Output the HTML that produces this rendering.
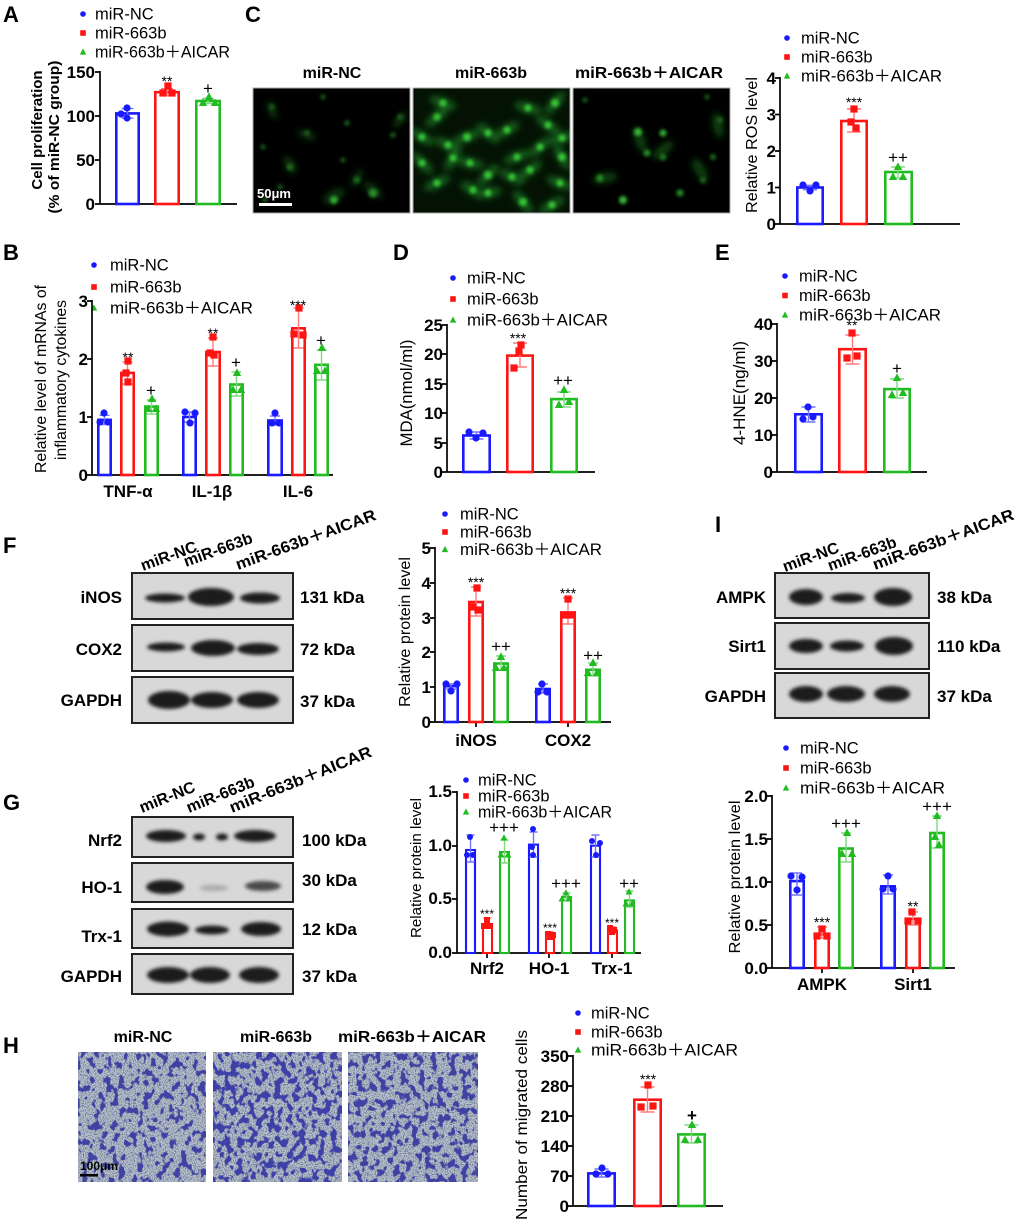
<!DOCTYPE html>
<html><head><meta charset="utf-8">
<style>
html,body{margin:0;padding:0;background:#fff}
svg{display:block}
svg text{font-family:"Liberation Sans","Noto Sans CJK SC",sans-serif;fill:#000}
.pl{font-size:22px;font-weight:bold}
.lg{font-size:16.5px}
.tk{font-size:17px;font-weight:bold;text-anchor:end}
.ct{font-size:17px;font-weight:bold;text-anchor:middle}
.ti{font-size:16px;font-weight:bold;text-anchor:middle}
.bl{font-size:17px;font-weight:bold}
.rl{font-size:16px;font-weight:bold}
.r{text-anchor:end}
.yl{text-anchor:middle}
.ax{stroke:#000;stroke-width:1.7;fill:none}
.B{fill:none;stroke:#1a1aff;stroke-width:2.6}
.R{fill:none;stroke:#ff1414;stroke-width:2.6}
.G{fill:none;stroke:#22bb22;stroke-width:2.6}
.B2{fill:none;stroke:#1a1aff;stroke-width:2.1}
.R2{fill:none;stroke:#ff1414;stroke-width:2.1}
.G2{fill:none;stroke:#22bb22;stroke-width:2.1}
.eB{stroke:#7474ff;stroke-width:1.4;fill:none}
.eR{stroke:#ff7a7a;stroke-width:1.4;fill:none}
.eG{stroke:#80d880;stroke-width:1.4;fill:none}
.st{font-size:14px;text-anchor:middle}
.st2{font-size:12px;text-anchor:middle}
.pp{font-size:17px;text-anchor:middle}
.blot{fill:#d8d8d8;stroke:#222;stroke-width:2}
</style></head><body>
<svg width="1020" height="1224" viewBox="0 0 1020 1224" xmlns="http://www.w3.org/2000/svg">
<defs>
<circle id="cb" r="3.6" fill="#1a1aff"/>
<rect id="sr" x="-3.6" y="-3.6" width="7.2" height="7.2" fill="#ff1414"/>
<path id="tg" d="M0,-4.6 L4.2,3 L-4.2,3Z" fill="#22bb22"/>
<circle id="cb2" r="3" fill="#1a1aff"/>
<rect id="sr2" x="-3" y="-3" width="6" height="6" fill="#ff1414"/>
<path id="tg2" d="M0,-3.8 L3.5,2.5 L-3.5,2.5Z" fill="#22bb22"/>
<circle id="cbs" r="2.8" fill="#1a1aff"/>
<rect id="srs" x="-2.8" y="-2.8" width="5.6" height="5.6" fill="#ff1414"/>
<path id="tgs" d="M0,-3.6 L3.2,2.6 L-3.2,2.6Z" fill="#22bb22"/>
<filter id="bband" x="-20%" y="-20%" width="140%" height="140%"><feGaussianBlur stdDeviation="1.8"/></filter>
<filter id="bn" x="-20%" y="-20%" width="140%" height="140%"><feGaussianBlur stdDeviation="1.6"/></filter>
<filter id="bb4" x="-20%" y="-20%" width="140%" height="140%"><feGaussianBlur stdDeviation="3.5"/></filter>
<clipPath id="c1"><rect x="253" y="88" width="157" height="125"/></clipPath>
<clipPath id="c2"><rect x="413" y="88" width="157" height="125"/></clipPath>
<clipPath id="c3"><rect x="573" y="88" width="157" height="125"/></clipPath>
<filter id="h1" x="0" y="0" width="1" height="1" color-interpolation-filters="sRGB">
 <feTurbulence type="fractalNoise" baseFrequency="0.16 0.13" numOctaves="2" seed="3" result="n"/>
 <feColorMatrix in="n" type="matrix" values="0 0 0 0 0.25  0 0 0 0 0.26  0 0 0 0 0.64  12 0 0 0 -6.45" result="c"/>
 <feTurbulence type="fractalNoise" baseFrequency="0.9" numOctaves="1" seed="9" result="s"/>
 <feColorMatrix in="s" type="matrix" values="0 0 0 0 0.4  0 0 0 0 0.44  0 0 0 0 0.52  5 0 0 0 -2.4" result="sp"/>
 <feMerge><feMergeNode in="SourceGraphic"/><feMergeNode in="sp"/><feMergeNode in="c"/></feMerge>
</filter>
<filter id="h2" x="0" y="0" width="1" height="1" color-interpolation-filters="sRGB">
 <feTurbulence type="fractalNoise" baseFrequency="0.16 0.13" numOctaves="2" seed="7" result="n"/>
 <feColorMatrix in="n" type="matrix" values="0 0 0 0 0.24  0 0 0 0 0.25  0 0 0 0 0.65  12 0 0 0 -6.05" result="c"/>
 <feTurbulence type="fractalNoise" baseFrequency="0.9" numOctaves="1" seed="12" result="s"/>
 <feColorMatrix in="s" type="matrix" values="0 0 0 0 0.4  0 0 0 0 0.44  0 0 0 0 0.52  5 0 0 0 -2.4" result="sp"/>
 <feMerge><feMergeNode in="SourceGraphic"/><feMergeNode in="sp"/><feMergeNode in="c"/></feMerge>
</filter>
<filter id="h3" x="0" y="0" width="1" height="1" color-interpolation-filters="sRGB">
 <feTurbulence type="fractalNoise" baseFrequency="0.16 0.13" numOctaves="2" seed="11" result="n"/>
 <feColorMatrix in="n" type="matrix" values="0 0 0 0 0.25  0 0 0 0 0.26  0 0 0 0 0.64  12 0 0 0 -6.25" result="c"/>
 <feTurbulence type="fractalNoise" baseFrequency="0.9" numOctaves="1" seed="15" result="s"/>
 <feColorMatrix in="s" type="matrix" values="0 0 0 0 0.4  0 0 0 0 0.44  0 0 0 0 0.52  5 0 0 0 -2.4" result="sp"/>
 <feMerge><feMergeNode in="SourceGraphic"/><feMergeNode in="sp"/><feMergeNode in="c"/></feMerge>
</filter>
</defs>

<!-- ============ PANEL A ============ -->
<text class="pl" x="3" y="22">A</text>
<use href="#cbs" x="83" y="14"/><text class="lg" x="95" y="19.5">miR-NC</text>
<use href="#srs" x="83" y="33"/><text class="lg" x="95" y="38.5">miR-663b</text>
<use href="#tgs" x="83" y="52"/><text class="lg" x="95" y="57.5" textLength="135" lengthAdjust="spacingAndGlyphs">miR-663b＋AICAR</text>
<path class="ax" d="M100,71V204H237M95,72H100M95,116H100M95,160H100M95,204H100"/>
<text class="tk" x="95" y="78">150</text><text class="tk" x="95" y="122">100</text><text class="tk" x="95" y="166">50</text><text class="tk" x="95" y="210">0</text>
<text class="yl" font-size="15" font-weight="bold" transform="translate(42,130) rotate(-90)">Cell proliferation</text>
<text class="yl" font-size="15" font-weight="bold" transform="translate(59,137) rotate(-90)" textLength="153" lengthAdjust="spacingAndGlyphs">(% of miR-NC group)</text>
<rect class="B" x="116.3" y="113.4" width="22.4" height="90.6"/>
<rect class="R" x="155.3" y="92.2" width="23.4" height="111.8"/>
<rect class="G" x="196.3" y="101" width="23.4" height="103"/>
<path class="eB" d="M127.5,108.6V118.2M121.5,108.6H133.5M121.5,118.2H133.5"/>
<path class="eR" d="M167,88.7V95.7M161,88.7H173M161,95.7H173"/>
<path class="eG" d="M208,98.4V103.6M202,98.4H214M202,103.6H214"/>
<use href="#cb" x="127" y="108"/><use href="#cb" x="121" y="114"/><use href="#cb" x="127" y="118"/>
<use href="#sr" x="168" y="86"/><use href="#sr" x="163" y="93"/><use href="#sr" x="172" y="93"/>
<use href="#tg" x="209" y="97"/><use href="#tg" x="203" y="103"/><use href="#tg" x="215" y="103"/>
<text class="st" x="167" y="86">**</text>
<text class="pp" x="208" y="94">+</text>

<!-- ============ PANEL C ============ -->
<text class="pl" x="245" y="22">C</text>
<text class="ti" x="332" y="78">miR-NC</text>
<text class="ti" x="491" y="78">miR-663b</text>
<text class="ti" x="649" y="78" textLength="148" lengthAdjust="spacingAndGlyphs">miR-663b＋AICAR</text>
<rect x="253" y="88" width="157" height="125" fill="#000"/>
<rect x="413" y="88" width="157" height="125" fill="#041204"/>
<rect x="573" y="88" width="157" height="125" fill="#000"/>
<g clip-path="url(#c1)">
 <g filter="url(#bb4)" fill="#0c330c">
  <ellipse cx="334" cy="196" rx="12" ry="6" transform="rotate(-30 334 196)"/>
  <ellipse cx="373" cy="190" rx="11" ry="5" transform="rotate(40 373 190)"/>
  <ellipse cx="290" cy="165" rx="10" ry="5" transform="rotate(60 290 165)"/>
  <ellipse cx="357" cy="178" rx="10" ry="4" transform="rotate(-60 357 178)"/>
  <ellipse cx="272" cy="110" rx="10" ry="4" transform="rotate(70 272 110)"/>
  <ellipse cx="400" cy="120" rx="10" ry="4" transform="rotate(-50 400 120)"/>
  <ellipse cx="307" cy="135" rx="10" ry="4" transform="rotate(20 307 135)"/>
 </g>
 <g filter="url(#bn)">
  <circle cx="334" cy="200" r="4" fill="#30a830"/>
  <circle cx="373" cy="193" r="4.5" fill="#268a26"/>
  <circle cx="347" cy="123" r="2.8" fill="#1a601a"/>
  <circle cx="307" cy="133" r="2.8" fill="#1a601a"/>
  <circle cx="357" cy="180" r="3.2" fill="#1f6f1f"/>
  <circle cx="393" cy="135" r="2.8" fill="#1a601a"/>
  <circle cx="272" cy="107" r="2.8" fill="#1a601a"/>
  <circle cx="290" cy="167" r="3.2" fill="#1f6f1f"/>
  <circle cx="400" cy="117" r="3" fill="#1a601a"/>
  <circle cx="263" cy="147" r="2.8" fill="#175517"/>
  <circle cx="280" cy="187" r="2.8" fill="#175517"/>
  <circle cx="323" cy="97" r="2.8" fill="#175517"/>
  <circle cx="343" cy="160" r="2.8" fill="#175517"/>
  <circle cx="265" cy="200" r="2.8" fill="#175517"/>
 </g>
</g>
<g clip-path="url(#c2)">
 <g filter="url(#bb4)" fill="#17601a">
  <ellipse cx="422" cy="137" rx="14" ry="5" transform="rotate(30 422 137)"/>
  <ellipse cx="437" cy="117" rx="14" ry="5" transform="rotate(-40 437 117)"/>
  <ellipse cx="443" cy="103" rx="14" ry="5" transform="rotate(20 443 103)"/>
  <ellipse cx="467" cy="137" rx="14" ry="5" transform="rotate(-20 467 137)"/>
  <ellipse cx="488" cy="133" rx="14" ry="5" transform="rotate(40 488 133)"/>
  <ellipse cx="507" cy="130" rx="14" ry="5" transform="rotate(-30 507 130)"/>
  <ellipse cx="528" cy="108" rx="14" ry="5" transform="rotate(15 528 108)"/>
  <ellipse cx="555" cy="103" rx="14" ry="5" transform="rotate(-50 555 103)"/>
  <ellipse cx="548" cy="125" rx="14" ry="5" transform="rotate(35 548 125)"/>
  <ellipse cx="562" cy="138" rx="14" ry="5" transform="rotate(-15 562 138)"/>
  <ellipse cx="562" cy="157" rx="14" ry="5" transform="rotate(60 562 157)"/>
  <ellipse cx="530" cy="170" rx="14" ry="5" transform="rotate(-35 530 170)"/>
  <ellipse cx="512" cy="177" rx="14" ry="5" transform="rotate(25 512 177)"/>
  <ellipse cx="488" cy="175" rx="14" ry="5" transform="rotate(-45 488 175)"/>
  <ellipse cx="470" cy="163" rx="14" ry="5" transform="rotate(10 470 163)"/>
  <ellipse cx="453" cy="158" rx="14" ry="5" transform="rotate(-60 453 158)"/>
  <ellipse cx="422" cy="163" rx="14" ry="5" transform="rotate(45 422 163)"/>
  <ellipse cx="437" cy="183" rx="14" ry="5" transform="rotate(-25 437 183)"/>
  <ellipse cx="473" cy="190" rx="14" ry="5" transform="rotate(30 473 190)"/>
  <ellipse cx="488" cy="193" rx="14" ry="5" transform="rotate(-10 488 193)"/>
  <ellipse cx="523" cy="202" rx="14" ry="5" transform="rotate(50 523 202)"/>
  <ellipse cx="552" cy="205" rx="14" ry="5" transform="rotate(-30 552 205)"/>
  <ellipse cx="560" cy="183" rx="14" ry="5" transform="rotate(20 560 183)"/>
  <ellipse cx="540" cy="147" rx="14" ry="5" transform="rotate(-40 540 147)"/>
  <ellipse cx="448" cy="145" rx="14" ry="5" transform="rotate(25 448 145)"/>
  <ellipse cx="517" cy="157" rx="14" ry="5" transform="rotate(-20 517 157)"/>
 </g>
 <g filter="url(#bn)" fill="#36c436">
  <circle cx="422" cy="137" r="3.6"/><circle cx="437" cy="117" r="3.6"/><circle cx="443" cy="103" r="3.6"/>
  <circle cx="467" cy="137" r="4"/><circle cx="488" cy="133" r="3.6"/><circle cx="507" cy="130" r="3.6"/>
  <circle cx="528" cy="108" r="3.6"/><circle cx="555" cy="103" r="4"/><circle cx="548" cy="125" r="3.6"/>
  <circle cx="562" cy="138" r="3.6"/><circle cx="562" cy="157" r="4"/><circle cx="530" cy="170" r="3.6"/>
  <circle cx="512" cy="177" r="3.6"/><circle cx="488" cy="175" r="4"/><circle cx="470" cy="163" r="3.6"/>
  <circle cx="453" cy="158" r="3.6"/><circle cx="422" cy="163" r="3.6"/><circle cx="437" cy="183" r="3.6"/>
  <circle cx="473" cy="190" r="3.6"/><circle cx="488" cy="193" r="3.6"/><circle cx="523" cy="202" r="4"/>
  <circle cx="552" cy="205" r="3.6"/><circle cx="560" cy="183" r="3.6"/><circle cx="540" cy="147" r="3.6"/>
  <circle cx="448" cy="145" r="3.6"/><circle cx="517" cy="157" r="3.6"/>
 </g>
</g>
<g clip-path="url(#c3)">
 <g filter="url(#bb4)" fill="#0f3f0f">
  <ellipse cx="640" cy="140" rx="13" ry="5" transform="rotate(70 640 140)"/>
  <ellipse cx="663" cy="150" rx="13" ry="5" transform="rotate(-40 663 150)"/>
  <ellipse cx="605" cy="178" rx="13" ry="5" transform="rotate(-10 605 178)"/>
  <ellipse cx="700" cy="170" rx="13" ry="5" transform="rotate(60 700 170)"/>
  <ellipse cx="718" cy="125" rx="13" ry="5" transform="rotate(80 718 125)"/>
 </g>
 <g filter="url(#bn)">
  <circle cx="638" cy="132" r="4" fill="#34b434"/>
  <circle cx="663" cy="133" r="3.6" fill="#30a830"/>
  <circle cx="647" cy="153" r="3.6" fill="#268a26"/>
  <circle cx="663" cy="157" r="3.6" fill="#1f6f1f"/>
  <circle cx="600" cy="178" r="3.6" fill="#268a26"/>
  <circle cx="623" cy="200" r="4" fill="#34b434"/>
  <circle cx="680" cy="193" r="3.6" fill="#268a26"/>
  <circle cx="703" cy="180" r="3.2" fill="#1a601a"/>
  <circle cx="713" cy="157" r="3.2" fill="#1a601a"/>
  <circle cx="720" cy="120" r="3.2" fill="#1a601a"/>
  <circle cx="707" cy="97" r="2.8" fill="#175517"/>
  <circle cx="585" cy="100" r="2.8" fill="#175517"/>
 </g>
</g>
<rect x="253" y="88" width="157" height="125" fill="none" stroke="#aaa" stroke-width="1"/>
<rect x="413" y="88" width="157" height="125" fill="none" stroke="#aaa" stroke-width="1"/>
<rect x="573" y="88" width="157" height="125" fill="none" stroke="#aaa" stroke-width="1"/>
<text x="257" y="198" font-size="13" font-weight="bold" style="fill:#fff">50μm</text>
<rect x="259" y="203" width="33" height="3" fill="#fff"/>

<!-- ROS chart -->
<use href="#cbs" x="787" y="38"/><text class="lg" x="801" y="43.5">miR-NC</text>
<use href="#srs" x="787" y="57"/><text class="lg" x="801" y="62.5">miR-663b</text>
<use href="#tgs" x="787" y="76"/><text class="lg" x="801" y="81.5" textLength="141" lengthAdjust="spacingAndGlyphs">miR-663b＋AICAR</text>
<path class="ax" d="M780,77V224H960M775,78H780M775,114.5H780M775,151H780M775,187.5H780M775,224H780"/>
<text class="tk" x="776" y="84">4</text><text class="tk" x="776" y="120.5">3</text><text class="tk" x="776" y="157">2</text><text class="tk" x="776" y="193.5">1</text><text class="tk" x="776" y="230">0</text>
<text class="yl" font-size="15.5" transform="translate(757,145) rotate(-90)" textLength="136" lengthAdjust="spacingAndGlyphs">Relative ROS level</text>
<rect class="B" x="797.3" y="187.5" width="25.4" height="36.5"/>
<rect class="R" x="841.3" y="121" width="25.4" height="103"/>
<rect class="G" x="885.3" y="172" width="26.4" height="52"/>
<path class="eB" d="M810,185.3V189.7M803,185.3H817M803,189.7H817"/>
<path class="eR" d="M854,109V132M847,109H861M847,132H861"/>
<path class="eG" d="M898,167V178M891,167H905M891,178H905"/>
<use href="#cb" x="803" y="185"/><use href="#cb" x="816" y="185"/><use href="#cb" x="810" y="191"/>
<use href="#sr" x="854" y="109"/><use href="#sr" x="851" y="122"/><use href="#sr" x="856" y="128"/>
<use href="#tg" x="898" y="167"/><use href="#tg" x="893" y="177"/><use href="#tg" x="903" y="177"/>
<text class="st" x="854" y="107">***</text>
<text class="pp" x="898" y="163">++</text>

<!-- ============ PANEL B ============ -->
<text class="pl" x="3" y="260">B</text>
<use href="#cbs" x="94" y="265"/><text class="lg" x="110" y="270.5">miR-NC</text>
<use href="#srs" x="94" y="287"/><text class="lg" x="110" y="292.5">miR-663b</text>
<use href="#tgs" x="94" y="308"/><text class="lg" x="110" y="313.5" textLength="143" lengthAdjust="spacingAndGlyphs">miR-663b＋AICAR</text>
<path class="ax" d="M92,300V475H333M87,301H92M87,359H92M87,417H92M87,475H92"/>
<text class="tk" x="88" y="307">3</text><text class="tk" x="88" y="365">2</text><text class="tk" x="88" y="423">1</text><text class="tk" x="88" y="481">0</text>
<text class="yl" font-size="15.5" transform="translate(46,379) rotate(-90)" textLength="188" lengthAdjust="spacingAndGlyphs">Relative level of mRNAs of</text>
<text class="yl" font-size="15.5" transform="translate(66,380) rotate(-90)" textLength="160" lengthAdjust="spacingAndGlyphs">inflammatory cytokines</text>
<rect class="B" x="98.3" y="419.9" width="12.4" height="55.1"/>
<rect class="R" x="121.3" y="372.9" width="12.4" height="102.1"/>
<rect class="G" x="145.3" y="406.6" width="12.4" height="68.4"/>
<rect class="B" x="183.3" y="417" width="12.4" height="58"/>
<rect class="R" x="206.3" y="352" width="13.4" height="123"/>
<rect class="G" x="230.3" y="384.5" width="12.4" height="90.5"/>
<rect class="B" x="268.3" y="420.5" width="13.4" height="54.5"/>
<rect class="R" x="292.3" y="328.3" width="12.4" height="146.7"/>
<rect class="G" x="315.3" y="364.8" width="12.4" height="110.2"/>
<path class="eB" d="M104.5,415.3V424.5M99.5,415.3H109.5M99.5,424.5H109.5M189.5,412V422M184.5,412H194.5M184.5,422H194.5M275,416V425M270,416H280M270,425H280"/>
<path class="eR" d="M127.5,362V384M122.5,362H132.5M122.5,384H132.5M213,338V366M208,338H218M208,366H218M298.5,308V348M293.5,308H303.5M293.5,348H303.5"/>
<path class="eG" d="M151.5,400V414M146.5,400H156.5M146.5,414H156.5M236.5,372V396M231.5,372H241.5M231.5,396H241.5M321.5,350V380M316.5,350H326.5M316.5,380H326.5"/>
<use href="#cb" x="104" y="413"/><use href="#cb" x="100" y="422"/><use href="#cb" x="108" y="422"/>
<use href="#sr" x="128" y="361"/><use href="#sr" x="126" y="373"/><use href="#sr" x="128" y="382"/>
<use href="#tg" x="152" y="399"/><use href="#tg" x="148" y="409"/><use href="#tg" x="156" y="409"/>
<use href="#cb" x="185" y="412"/><use href="#cb" x="195" y="413"/><use href="#cb" x="190" y="423"/>
<use href="#sr" x="213" y="337"/><use href="#sr" x="210" y="353"/><use href="#sr" x="214" y="355"/>
<use href="#tg" x="237" y="373"/><use href="#tg" x="233" y="390"/><use href="#tg" x="241" y="390"/>
<use href="#cb" x="275" y="413"/><use href="#cb" x="272" y="423"/><use href="#cb" x="279" y="423"/>
<use href="#sr" x="299" y="308"/><use href="#sr" x="294" y="334"/><use href="#sr" x="303" y="335"/>
<use href="#tg" x="322" y="348"/><use href="#tg" x="317" y="371"/><use href="#tg" x="325" y="371"/>
<text class="st" x="128" y="362">**</text><text class="pp" x="151" y="396">+</text>
<text class="st" x="213" y="338">**</text><text class="pp" x="236" y="368">+</text>
<text class="st" x="298" y="310">***</text><text class="pp" x="321" y="346">+</text>
<text class="ct" x="128" y="497">TNF-α</text><text class="ct" x="212" y="497">IL-1β</text><text class="ct" x="298" y="497">IL-6</text>

<!-- ============ PANEL D ============ -->
<text class="pl" x="393" y="260">D</text>
<use href="#cbs" x="453" y="278"/><text class="lg" x="467" y="283.5">miR-NC</text>
<use href="#srs" x="453" y="299"/><text class="lg" x="467" y="304.5">miR-663b</text>
<use href="#tgs" x="453" y="320"/><text class="lg" x="467" y="325.5" textLength="141" lengthAdjust="spacingAndGlyphs">miR-663b＋AICAR</text>
<path class="ax" d="M447,324V472H595M442,325H447M442,354H447M442,384H447M442,413H447M442,443H447M442,472H447"/>
<text class="tk" x="443" y="331">25</text><text class="tk" x="443" y="360">20</text><text class="tk" x="443" y="390">15</text><text class="tk" x="443" y="419">10</text><text class="tk" x="443" y="449">5</text><text class="tk" x="443" y="478">0</text>
<text class="yl" font-size="16.5" transform="translate(412,393) rotate(-90)" textLength="107" lengthAdjust="spacingAndGlyphs">MDA(nmol/ml)</text>
<rect class="B" x="463.3" y="435.5" width="26.4" height="36.5"/>
<rect class="R" x="507.3" y="355.6" width="25.4" height="116.4"/>
<rect class="G" x="551.3" y="399.1" width="25.4" height="72.9"/>
<path class="eB" d="M476.5,432V439M469.5,432H483.5M469.5,439H483.5"/>
<path class="eR" d="M520,343V367M513,343H527M513,367H527"/>
<path class="eG" d="M564,392V407M557,392H571M557,407H571"/>
<use href="#cb" x="469" y="432"/><use href="#cb" x="483" y="433"/><use href="#cb" x="476" y="438"/>
<use href="#sr" x="521" y="345"/><use href="#sr" x="519" y="351"/><use href="#sr" x="514" y="368"/>
<use href="#tg" x="564" y="390"/><use href="#tg" x="559" y="405"/><use href="#tg" x="569" y="402"/>
<text class="st" x="518" y="343">***</text><text class="pp" x="563" y="386">++</text>

<!-- ============ PANEL E ============ -->
<text class="pl" x="715" y="260">E</text>
<use href="#cbs" x="785" y="276"/><text class="lg" x="799" y="281.5">miR-NC</text>
<use href="#srs" x="785" y="295.5"/><text class="lg" x="799" y="301">miR-663b</text>
<use href="#tgs" x="785" y="315"/><text class="lg" x="799" y="320.5" textLength="142" lengthAdjust="spacingAndGlyphs">miR-663b＋AICAR</text>
<path class="ax" d="M777,323V472H927M772,324H777M772,361H777M772,398H777M772,435H777M772,472H777"/>
<text class="tk" x="773" y="330">40</text><text class="tk" x="773" y="367">30</text><text class="tk" x="773" y="404">20</text><text class="tk" x="773" y="441">10</text><text class="tk" x="773" y="478">0</text>
<text class="yl" font-size="16.5" transform="translate(745,393) rotate(-90)" textLength="104" lengthAdjust="spacingAndGlyphs">4-HNE(ng/ml)</text>
<rect class="B" x="795.3" y="414.3" width="26.4" height="57.7"/>
<rect class="R" x="839.3" y="349.2" width="26.4" height="122.8"/>
<rect class="G" x="884.3" y="389.1" width="25.4" height="82.9"/>
<path class="eB" d="M808.5,407V422M801.5,407H815.5M801.5,422H815.5"/>
<path class="eR" d="M852.5,335V364M845.5,335H859.5M845.5,364H859.5"/>
<path class="eG" d="M897,379V398M890,379H904M890,398H904"/>
<use href="#cb" x="808" y="407"/><use href="#cb" x="803" y="419"/><use href="#cb" x="813" y="417"/>
<use href="#sr" x="852" y="333"/><use href="#sr" x="847" y="358"/><use href="#sr" x="857" y="356"/>
<use href="#tg" x="897" y="378"/><use href="#tg" x="892" y="395"/><use href="#tg" x="903" y="393"/>
<text class="st" x="852" y="330">**</text><text class="pp" x="897" y="374">+</text>

<!-- ============ PANEL F ============ -->
<text class="pl" x="3" y="553">F</text>
<text class="rl" font-size="15" transform="translate(143,571) rotate(-20)">miR-NC</text>
<text class="rl" font-size="15" transform="translate(186,567) rotate(-20)">miR-663b</text>
<text class="rl" font-size="15" transform="translate(238,570) rotate(-20)" textLength="148" lengthAdjust="spacingAndGlyphs">miR-663b＋AICAR</text>
<rect class="blot" x="132" y="573" width="161" height="46"/>
<rect class="blot" x="132" y="625" width="161" height="46"/>
<rect class="blot" x="132" y="677" width="161" height="46"/>
<g filter="url(#bband)" fill="#1e1e1e">
 <ellipse cx="165" cy="598" rx="20" ry="4.5"/><ellipse cx="211" cy="597" rx="23" ry="9"/><ellipse cx="260" cy="598" rx="20" ry="5.5"/>
 <ellipse cx="166" cy="647" rx="19" ry="4.5"/><ellipse cx="213" cy="648" rx="22" ry="8"/><ellipse cx="258" cy="649" rx="21" ry="6"/>
 <ellipse cx="169" cy="700" rx="21" ry="9"/><ellipse cx="212" cy="700" rx="21" ry="8"/><ellipse cx="258" cy="700" rx="21" ry="8"/>
</g>
<text class="bl r" x="122" y="603">iNOS</text><text class="bl r" x="122" y="655">COX2</text><text class="bl r" x="122" y="706">GAPDH</text>
<text class="bl" x="300" y="603">131 kDa</text><text class="bl" x="300" y="655">72 kDa</text><text class="bl" x="300" y="707">37 kDa</text>
<!-- F chart -->
<use href="#cbs" x="445" y="514"/><text class="lg" x="460" y="519.5">miR-NC</text>
<use href="#srs" x="445" y="532"/><text class="lg" x="460" y="537.5">miR-663b</text>
<use href="#tgs" x="445" y="549.5"/><text class="lg" x="460" y="555" textLength="142" lengthAdjust="spacingAndGlyphs">miR-663b＋AICAR</text>
<path class="ax" d="M435,547V722H611M430,548H435M430,583H435M430,618H435M430,652H435M430,687H435M430,722H435M476,722V727M568,722V727"/>
<text class="tk" x="431" y="554">5</text><text class="tk" x="431" y="589">4</text><text class="tk" x="431" y="624">3</text><text class="tk" x="431" y="658">2</text><text class="tk" x="431" y="693">1</text><text class="tk" x="431" y="728">0</text>
<text class="yl" font-size="15.5" transform="translate(410,632) rotate(-90)" textLength="150" lengthAdjust="spacingAndGlyphs">Relative protein level</text>
<rect class="B" x="444.3" y="686.2" width="13.4" height="35.8"/>
<rect class="R" x="469.3" y="602" width="13.4" height="120"/>
<rect class="G" x="494.3" y="663.5" width="13.4" height="58.5"/>
<rect class="B" x="536.3" y="689" width="13.4" height="33"/>
<rect class="R" x="561.3" y="612.4" width="13.4" height="109.6"/>
<rect class="G" x="586.3" y="669.8" width="13.4" height="52.2"/>
<path class="eB" d="M451,684V689M446,684H456M446,689H456M543,684V693M538,684H548M538,693H548"/>
<path class="eR" d="M476,587V616M471,587H481M471,616H481M568,598V624M563,598H573M563,624H573"/>
<path class="eG" d="M501,656V670M496,656H506M496,670H506M593,663V676M588,663H598M588,676H598"/>
<use href="#cb" x="446" y="684"/><use href="#cb" x="457" y="684"/><use href="#cb" x="451" y="691"/>
<use href="#sr" x="477" y="588"/><use href="#sr" x="473" y="607"/><use href="#sr" x="478" y="610"/>
<use href="#tg" x="501" y="657"/><use href="#tg" x="496" y="668"/><use href="#tg" x="504" y="668"/>
<use href="#cb" x="542" y="684"/><use href="#cb" x="538" y="692"/><use href="#cb" x="547" y="692"/>
<use href="#sr" x="568" y="599"/><use href="#sr" x="565" y="615"/><use href="#sr" x="570" y="615"/>
<use href="#tg" x="593" y="663"/><use href="#tg" x="588" y="673"/><use href="#tg" x="597" y="673"/>
<text class="st" x="476" y="587">***</text><text class="pp" x="501" y="652">++</text>
<text class="st" x="568" y="598">***</text><text class="pp" x="593" y="661">++</text>
<text class="ct" x="476" y="746">iNOS</text><text class="ct" x="568" y="746">COX2</text>

<!-- ============ PANEL I ============ -->
<text class="pl" x="715" y="532">I</text>
<text class="rl" transform="translate(785,572) rotate(-20)">miR-NC</text>
<text class="rl" transform="translate(830,571) rotate(-20)">miR-663b</text>
<text class="rl" transform="translate(875,570) rotate(-20)" textLength="149" lengthAdjust="spacingAndGlyphs">miR-663b＋AICAR</text>
<rect class="blot" x="775" y="573" width="154" height="45"/>
<rect class="blot" x="775" y="623" width="154" height="46"/>
<rect class="blot" x="775" y="673" width="154" height="45"/>
<g filter="url(#bband)" fill="#1e1e1e">
 <ellipse cx="806" cy="597" rx="17" ry="8"/><ellipse cx="848" cy="598" rx="17" ry="5"/><ellipse cx="893" cy="597" rx="19" ry="9"/>
 <ellipse cx="806" cy="646" rx="17" ry="7"/><ellipse cx="847" cy="646" rx="17" ry="5.5"/><ellipse cx="894" cy="646" rx="19" ry="9"/>
 <ellipse cx="806" cy="694" rx="17" ry="8"/><ellipse cx="846" cy="694" rx="19" ry="8"/><ellipse cx="892" cy="694" rx="18" ry="8"/>
</g>
<text class="bl r" x="766" y="603">AMPK</text><text class="bl r" x="766" y="652">Sirt1</text><text class="bl r" x="766" y="702">GAPDH</text>
<text class="bl" x="937" y="603">38 kDa</text><text class="bl" x="937" y="652">110 kDa</text><text class="bl" x="937" y="702">37 kDa</text>
<!-- I chart -->
<use href="#cbs" x="786" y="748"/><text class="lg" x="800" y="753.5">miR-NC</text>
<use href="#srs" x="786" y="768"/><text class="lg" x="800" y="773.5">miR-663b</text>
<use href="#tgs" x="786" y="788"/><text class="lg" x="800" y="793.5" textLength="145" lengthAdjust="spacingAndGlyphs">miR-663b＋AICAR</text>
<path class="ax" d="M772,795V968H955M767,796H772M767,839H772M767,882H772M767,925H772M767,968H772M822,968V973M913,968V973"/>
<text class="tk" x="768" y="802">2.0</text><text class="tk" x="768" y="845">1.5</text><text class="tk" x="768" y="888">1.0</text><text class="tk" x="768" y="931">0.5</text><text class="tk" x="768" y="974">0.0</text>
<text class="yl" font-size="16" transform="translate(740,877) rotate(-90)" textLength="153" lengthAdjust="spacingAndGlyphs">Relative protein level</text>
<rect class="B" x="790.3" y="881.1" width="13.4" height="86.9"/>
<rect class="R" x="815.3" y="934.5" width="13.4" height="33.5"/>
<rect class="G" x="839.3" y="848.5" width="13.4" height="119.5"/>
<rect class="B" x="881.3" y="886.3" width="13.4" height="81.7"/>
<rect class="R" x="906.3" y="919" width="13.4" height="49"/>
<rect class="G" x="930.3" y="833" width="13.4" height="135"/>
<path class="eB" d="M797,873V895M792,873H802M792,895H802M888,875V894M883,875H893M883,894H893"/>
<path class="eR" d="M822,927V938M817,927H827M817,938H827M913,912V925M908,912H918M908,925H918"/>
<path class="eG" d="M846,833V862M841,833H851M841,862H851M937,816V848M932,816H942M932,848H942"/>
<use href="#cb" x="791" y="876"/><use href="#cb" x="802" y="877"/><use href="#cb" x="797" y="890"/>
<use href="#sr" x="822" y="929"/><use href="#sr" x="817" y="936"/><use href="#sr" x="827" y="936"/>
<use href="#tg" x="847" y="833"/><use href="#tg" x="842" y="854"/><use href="#tg" x="852" y="854"/>
<use href="#cb" x="888" y="876"/><use href="#cb" x="883" y="889"/><use href="#cb" x="893" y="889"/>
<use href="#sr" x="912" y="912"/><use href="#sr" x="908" y="921"/><use href="#sr" x="918" y="921"/>
<use href="#tg" x="937" y="816"/><use href="#tg" x="935" y="837"/><use href="#tg" x="939" y="845"/>
<text class="st" x="822" y="927">***</text><text class="pp" x="846" y="829">+++</text>
<text class="st" x="913" y="911">**</text><text class="pp" x="937" y="812">+++</text>
<text class="ct" x="822" y="990">AMPK</text><text class="ct" x="913" y="990">Sirt1</text>

<!-- ============ PANEL G ============ -->
<text class="pl" x="3" y="810">G</text>
<text class="rl" transform="translate(142,813) rotate(-22)">miR-NC</text>
<text class="rl" transform="translate(189,813) rotate(-22)">miR-663b</text>
<text class="rl" transform="translate(232,813) rotate(-22)" textLength="152" lengthAdjust="spacingAndGlyphs">miR-663b＋AICAR</text>
<rect class="blot" x="132" y="817" width="161" height="40"/>
<rect class="blot" x="132" y="863" width="161" height="39"/>
<rect class="blot" x="132" y="909" width="161" height="39"/>
<rect class="blot" x="132" y="954" width="161" height="40"/>
<g filter="url(#bband)" fill="#1e1e1e">
 <ellipse cx="166" cy="836" rx="20" ry="6"/><ellipse cx="199" cy="837" rx="6" ry="3.5"/><ellipse cx="222" cy="837" rx="6" ry="3.5"/><ellipse cx="255" cy="836" rx="21" ry="6"/>
 <ellipse cx="165" cy="887" rx="19" ry="7"/><ellipse cx="214" cy="888" rx="14" ry="3" opacity="0.25"/><ellipse cx="263" cy="886" rx="18" ry="5" opacity="0.75"/>
 <ellipse cx="168" cy="929" rx="21" ry="7.5"/><ellipse cx="212" cy="930" rx="17" ry="4.5"/><ellipse cx="261" cy="929" rx="20" ry="7"/>
 <ellipse cx="168" cy="975" rx="21" ry="8"/><ellipse cx="210" cy="975" rx="20" ry="8"/><ellipse cx="259" cy="975" rx="20" ry="8"/>
</g>
<text class="bl r" x="122" y="846">Nrf2</text><text class="bl r" x="122" y="893">HO-1</text><text class="bl r" x="122" y="942">Trx-1</text><text class="bl r" x="122" y="982">GAPDH</text>
<text class="bl" x="302" y="846">100 kDa</text><text class="bl" x="302" y="886">30 kDa</text><text class="bl" x="302" y="935">12 kDa</text><text class="bl" x="302" y="982">37 kDa</text>
<!-- G chart -->
<use href="#cbs" x="466" y="780"/><text class="lg" x="478" y="785.5">miR-NC</text>
<use href="#srs" x="466" y="796"/><text class="lg" x="478" y="801.5">miR-663b</text>
<use href="#tgs" x="466" y="812"/><text class="lg" x="478" y="817.5" textLength="134" lengthAdjust="spacingAndGlyphs">miR-663b＋AICAR</text>
<path class="ax" d="M457,791V953H641M452,792H457M452,846H457M452,899H457M452,953H457M487,953V958M549,953V958M612,953V958"/>
<text class="tk" font-size="15" x="452" y="797">1.5</text><text class="tk" font-size="15" x="452" y="851">1.0</text><text class="tk" font-size="15" x="452" y="904">0.5</text><text class="tk" font-size="15" x="452" y="958">0.0</text>
<text class="yl" font-size="14.5" transform="translate(421,868) rotate(-90)" textLength="140" lengthAdjust="spacingAndGlyphs">Relative protein level</text>
<rect class="B2" x="466" y="850" width="9" height="103"/>
<rect class="R2" x="483" y="924" width="9" height="29"/>
<rect class="G2" x="500" y="852" width="9" height="101"/>
<rect class="B2" x="529" y="844.6" width="9" height="108.4"/>
<rect class="R2" x="546" y="934.8" width="8" height="18.2"/>
<rect class="G2" x="562" y="897" width="9" height="56"/>
<rect class="B2" x="591" y="845.7" width="9" height="107.3"/>
<rect class="R2" x="608" y="930.5" width="9" height="22.5"/>
<rect class="G2" x="625" y="900.4" width="9" height="52.6"/>
<path class="eB" d="M470.5,835V862M466.5,835H474.5M466.5,862H474.5M533.5,832V857M529.5,832H537.5M529.5,857H537.5M595.5,835V857M591.5,835H599.5M591.5,857H599.5"/>
<path class="eR" d="M487.5,918V928M483.5,918H491.5M483.5,928H491.5M550,932V937M546,932H554M546,937H554M612.5,927V933M608.5,927H616.5M608.5,933H616.5"/>
<path class="eG" d="M504.5,840V863M500.5,840H508.5M500.5,863H508.5M566.5,893V900M562.5,893H570.5M562.5,900H570.5M629.5,891V907M625.5,891H633.5M625.5,907H633.5"/>
<use href="#cb2" x="470" y="837"/><use href="#cb2" x="467" y="855"/><use href="#cb2" x="473" y="855"/>
<use href="#sr2" x="487" y="920"/><use href="#sr2" x="484" y="926"/><use href="#sr2" x="490" y="926"/>
<use href="#tg2" x="504" y="838"/><use href="#tg2" x="501" y="855"/><use href="#tg2" x="508" y="855"/>
<use href="#cb2" x="533" y="829"/><use href="#cb2" x="532" y="847"/><use href="#cb2" x="533" y="855"/>
<use href="#sr2" x="548" y="934"/><use href="#sr2" x="550" y="937"/><use href="#sr2" x="553" y="935"/>
<use href="#tg2" x="566" y="893"/><use href="#tg2" x="562" y="899"/><use href="#tg2" x="569" y="899"/>
<use href="#cb2" x="592" y="841"/><use href="#cb2" x="600" y="843"/><use href="#cb2" x="596" y="855"/>
<use href="#sr2" x="610" y="928"/><use href="#sr2" x="614" y="930"/><use href="#sr2" x="612" y="932"/>
<use href="#tg2" x="629" y="892"/><use href="#tg2" x="626" y="904"/><use href="#tg2" x="632" y="904"/>
<text class="st2" x="487" y="918">***</text><text class="pp" font-size="15" x="504" y="833">+++</text>
<text class="st2" x="550" y="932">***</text><text class="pp" font-size="15" x="566" y="889">+++</text>
<text class="st2" x="612" y="927">***</text><text class="pp" font-size="15" x="629" y="889">++</text>
<text class="ct" font-size="16" x="487" y="974">Nrf2</text><text class="ct" font-size="16" x="549" y="974">HO-1</text><text class="ct" font-size="16" x="612" y="974">Trx-1</text>

<!-- ============ PANEL H ============ -->
<text class="pl" x="3" y="1053">H</text>
<text class="ti" x="143" y="1042">miR-NC</text>
<text class="ti" x="276" y="1042">miR-663b</text>
<text class="ti" x="412" y="1042" textLength="148" lengthAdjust="spacingAndGlyphs">miR-663b＋AICAR</text>
<rect x="78" y="1052" width="128" height="130" fill="#b6bfcd" filter="url(#h1)"/>
<rect x="213" y="1052" width="129" height="130" fill="#b6bfcd" filter="url(#h2)"/>
<rect x="348" y="1052" width="130" height="130" fill="#b6bfcd" filter="url(#h3)"/>
<text x="80" y="1170" font-size="12" font-weight="bold">100μm</text>
<rect x="80" y="1174" width="18" height="2.5" fill="#000"/>
<!-- H chart -->
<use href="#cbs" x="578" y="1013"/><text class="lg" x="591" y="1018.5">miR-NC</text>
<use href="#srs" x="578" y="1032"/><text class="lg" x="591" y="1037.5">miR-663b</text>
<use href="#tgs" x="578" y="1050"/><text class="lg" x="591" y="1055.5" textLength="147" lengthAdjust="spacingAndGlyphs">miR-663b＋AICAR</text>
<path class="ax" d="M573,1055V1206H723M568,1056H573M568,1086H573M568,1116H573M568,1146H573M568,1176H573M568,1206H573"/>
<text class="tk" x="569" y="1062">350</text><text class="tk" x="569" y="1092">280</text><text class="tk" x="569" y="1122">210</text><text class="tk" x="569" y="1152">140</text><text class="tk" x="569" y="1182">70</text><text class="tk" x="569" y="1212">0</text>
<text class="yl" font-size="16" transform="translate(527,1125) rotate(-90)" textLength="190" lengthAdjust="spacingAndGlyphs">Number of migrated cells</text>
<rect class="B" x="588.3" y="1173.4" width="26.4" height="32.6"/>
<rect class="R" x="634.3" y="1099.7" width="26.4" height="106.3"/>
<rect class="G" x="678.3" y="1134.4" width="26.4" height="71.6"/>
<path class="eB" d="M601.5,1169V1177M594.5,1169H608.5M594.5,1177H608.5"/>
<path class="eR" d="M647.5,1087V1112M640.5,1087H654.5M640.5,1112H654.5"/>
<path class="eG" d="M691.5,1125V1143M684.5,1125H698.5M684.5,1143H698.5"/>
<use href="#cb" x="602" y="1168"/><use href="#cb" x="596" y="1174"/><use href="#cb" x="608" y="1174"/>
<use href="#sr" x="648" y="1085"/><use href="#sr" x="641" y="1107"/><use href="#sr" x="653" y="1106"/>
<use href="#tg" x="692" y="1125"/><use href="#tg" x="685" y="1140"/><use href="#tg" x="698" y="1140"/>
<text class="st" x="648" y="1084">***</text><text class="pp" font-weight="bold" x="692" y="1121">+</text>
</svg>
</body></html>
